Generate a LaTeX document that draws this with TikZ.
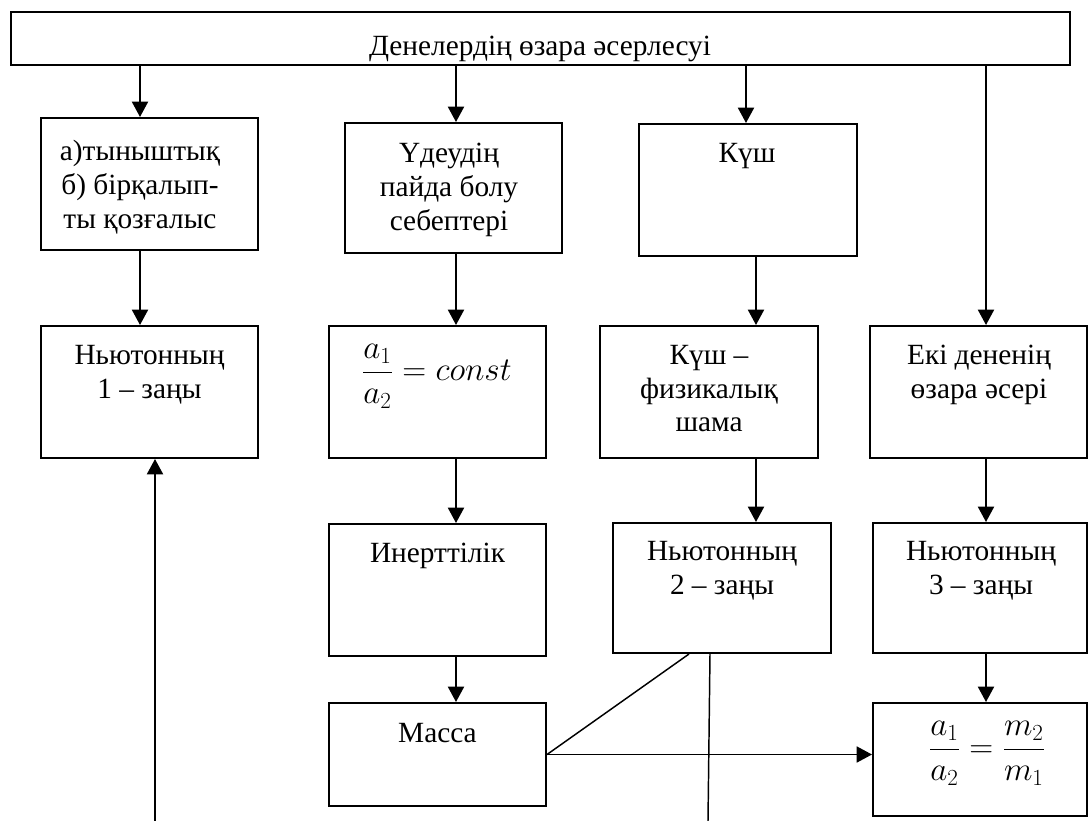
\documentclass[tikz,border=0pt]{standalone}
\usepackage{fontspec}
\setmainfont{Liberation Serif}
\usetikzlibrary{arrows.meta,fit}
\newcommand\fs{\fontsize{22pt}{25.3pt}\selectfont}
\newcommand\fm{\fontsize{25pt}{30pt}\selectfont}
\begin{document}
\begin{tikzpicture}[x=0.75pt,y=-0.75pt,
  box/.style={draw, line width=1.5pt, inner sep=0pt},
  txt/.style={anchor=north, inner sep=0pt, align=center, font=\fs},
  frm/.style={inner sep=0pt, font=\fm},
  arr/.style={line width=1.5pt, -{Triangle[length=11.5pt,width=12pt]}},
  thinline/.style={line width=1.1pt}]
\useasboundingbox (0,0) rectangle (1089,821);
% boxes
\node[box, fit={(11,12) (1070,65)}] (top) {};
\node[box, fit={(41,118) (258,250)}] (A) {};
\node[box, fit={(345,123) (562,253)}] (U) {};
\node[box, fit={(639,124) (857,256)}] (K) {};
\node[box, fit={(41,326) (258,458)}] (N1) {};
\node[box, fit={(329,326) (546,458)}] (C) {};
\node[box, fit={(600,326) (818,458)}] (KF) {};
\node[box, fit={(870,326) (1087,458)}] (E) {};
\node[box, fit={(329,524) (546,656)}] (I) {};
\node[box, fit={(613,523) (831,653)}] (N2) {};
\node[box, fit={(873,523) (1087,653)}] (N3) {};
\node[box, fit={(329,703) (546,806)}] (M) {};
\node[box, fit={(873,703) (1087,816)}] (R) {};
% texts
\node[txt] (tTop) at (540,31.4) {\strut Денелердің өзара әсерлесуі};
\node[txt] (tA) at (140,137.1) {\strut а)тыныштық\\б) бірқалып-\\ты қозғалыс};
\node[txt] (tU) at (449,139.1) {\strut Үдеудің\\пайда болу\\себептері};
\node[txt] (tK) at (747,138.4) {\strut Күш};
\node[txt] (tN1) at (149.5,340.4) {\strut Ньютонның\\1 – заңы};
\node[txt] (tKF) at (709,340.4) {\strut Күш –\\физикалық\\шама};
\node[txt] (tE) at (979,340.4) {\strut Екі дененің\\өзара әсері};
\node[txt] (tI) at (437.5,538.4) {\strut Инерттілік};
\node[txt] (tN2) at (722,536.4) {\strut Ньютонның\\2 – заңы};
\node[txt] (tN3) at (981,536.4) {\strut Ньютонның\\3 – заңы};
\node[txt] (tM) at (437.5,718.4) {\strut Масса};
\node[frm, anchor=base west] (fC) at (361.5,380.6) {$\displaystyle\frac{a_1}{a_2}=const$};
\node[frm, anchor=base] (fR) at (987,757.6) {$\displaystyle\frac{a_1}{a_2}=\frac{m_2}{m_1}$};
% connector columns
\coordinate (c1) at (140,0);
\coordinate (c2) at (456,0);
\coordinate (c3) at (746,0);
\coordinate (c3b) at (756,0);
\coordinate (c4) at (986,0);
\coordinate (c5) at (710,0);
\coordinate (d2) at (689,0);
\coordinate (b1) at (155,821);
\coordinate (b2) at (708,821);
% arrows
\draw[arr] (top.south -| c1) -- (A.north -| c1);
\draw[arr] (top.south -| c2) -- (U.north -| c2);
\draw[arr] (top.south -| c3) -- (K.north -| c3);
\draw[arr] (top.south -| c4) -- (E.north -| c4);
\draw[arr] (A.south -| c1) -- (N1.north -| c1);
\draw[arr] (U.south -| c2) -- (C.north -| c2);
\draw[arr] (K.south -| c3b) -- (KF.north -| c3b);
\draw[arr] (C.south -| c2) -- (I.north -| c2);
\draw[arr] (KF.south -| c3b) -- (N2.north -| c3b);
\draw[arr] (E.south -| c4) -- (N3.north -| c4);
\draw[arr] (I.south -| c2) -- (M.north -| c2);
\draw[arr] (N3.south -| c4) -- (R.north -| c4);
\draw[arr, line width=1.3pt] (M.east) -- (M.east -| R.west);
\draw[thinline] (M.east) -- (N2.south -| d2);
\draw[thinline] (N2.south -| c5) -- (b2);
\draw[arr] (b1) -- (N1.south -| b1);
\end{tikzpicture}
\end{document}
